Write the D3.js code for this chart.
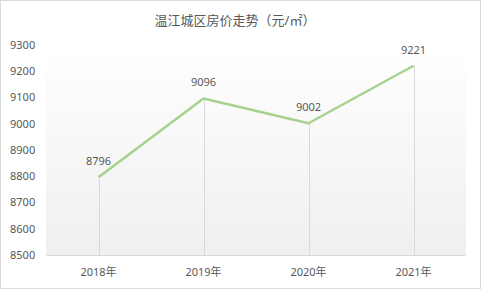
<!DOCTYPE html>
<html>
<head>
<meta charset="utf-8">
<script src="https://cdn.jsdelivr.net/npm/d3@7"></script>
<style>
  body { margin: 0; background: #fff; }
  text { font-family: "Noto Sans", "Noto Sans CJK SC", sans-serif; fill: #595959; }
</style>
</head>
<body>
<div id="chart"></div>
<script>
// Data
const years = ["2018年", "2019年", "2020年", "2021年"];
const prices = [8796, 9096, 9002, 9221];
const yTicks = [8500, 8600, 8700, 8800, 8900, 9000, 9100, 9200, 9300];
const title = "温江城区房价走势（元/㎡）";

const W = 481, H = 289;
const margin = { top: 45, right: 15, bottom: 34, left: 46 };

const svg = d3.select("#chart")
    .append("svg")
    .attr("width", W)
    .attr("height", H);

// outer border
svg.append("rect")
    .attr("x", 0.5).attr("y", 0.5)
    .attr("width", W - 1).attr("height", H - 1)
    .attr("fill", "#fff")
    .attr("stroke", "#d9d9d9");

// plot area gradient
const grad = svg.append("defs").append("linearGradient")
    .attr("id", "bg")
    .attr("x1", 0).attr("y1", 0).attr("x2", 0).attr("y2", 1);
grad.append("stop").attr("offset", "0%").attr("stop-color", "#ffffff");
grad.append("stop").attr("offset", "100%").attr("stop-color", "#efefef");

const x = d3.scaleBand()
    .domain(years)
    .range([margin.left, W - margin.right]);

const y = d3.scaleLinear()
    .domain([8500, 9300])
    .range([H - margin.bottom, margin.top]);

svg.append("rect")
    .attr("x", margin.left)
    .attr("y", y(9300))
    .attr("width", W - margin.right - margin.left)
    .attr("height", y(8500) - y(9300))
    .attr("fill", "url(#bg)");

// title
svg.append("text")
    .attr("x", 235)
    .attr("y", 20)
    .attr("dy", "0.35em")
    .attr("text-anchor", "middle")
    .style("font-size", "13px")
    .text(title);

// y axis labels
svg.selectAll(".ylab")
    .data(yTicks)
    .enter()
    .append("text")
    .attr("class", "ylab")
    .attr("x", 10)
    .attr("y", d => y(d))
    .attr("dy", "0.35em")
    .style("font-size", "11px")
    .text(d => d);

// x axis line
svg.append("line")
    .attr("x1", margin.left)
    .attr("x2", W - margin.right)
    .attr("y1", y(8500) + 0.5)
    .attr("y2", y(8500) + 0.5)
    .attr("stroke", "#d9d9d9");

// x labels
svg.selectAll(".xlab")
    .data(years)
    .enter()
    .append("text")
    .attr("class", "xlab")
    .attr("x", d => x(d) + x.bandwidth() / 2)
    .attr("y", H - margin.bottom + 17)
    .attr("dy", "0.35em")
    .attr("text-anchor", "middle")
    .style("font-size", "11px")
    .text(d => d);

const pts = years.map((d, i) => ({ year: d, value: prices[i] }));

// drop lines
svg.selectAll(".drop")
    .data(pts)
    .enter()
    .append("line")
    .attr("class", "drop")
    .attr("x1", d => Math.round(x(d.year) + x.bandwidth() / 2) + 0.5)
    .attr("x2", d => Math.round(x(d.year) + x.bandwidth() / 2) + 0.5)
    .attr("y1", d => y(d.value))
    .attr("y2", y(8500))
    .attr("stroke", "#d9d9d9");

// price line
const line = d3.line()
    .x(d => x(d.year) + x.bandwidth() / 2)
    .y(d => y(d.value));

svg.append("path")
    .datum(pts)
    .attr("d", line)
    .attr("fill", "none")
    .attr("stroke", "#a9d18e")
    .attr("stroke-width", 2.5)
    .attr("stroke-linejoin", "round");

// value labels
svg.selectAll(".vlab")
    .data(pts)
    .enter()
    .append("text")
    .attr("class", "vlab")
    .attr("x", d => x(d.year) + x.bandwidth() / 2)
    .attr("y", d => y(d.value) - 16)
    .attr("dy", "0.35em")
    .attr("text-anchor", "middle")
    .style("font-size", "11px")
    .text(d => d.value);
</script>
</body>
</html>
